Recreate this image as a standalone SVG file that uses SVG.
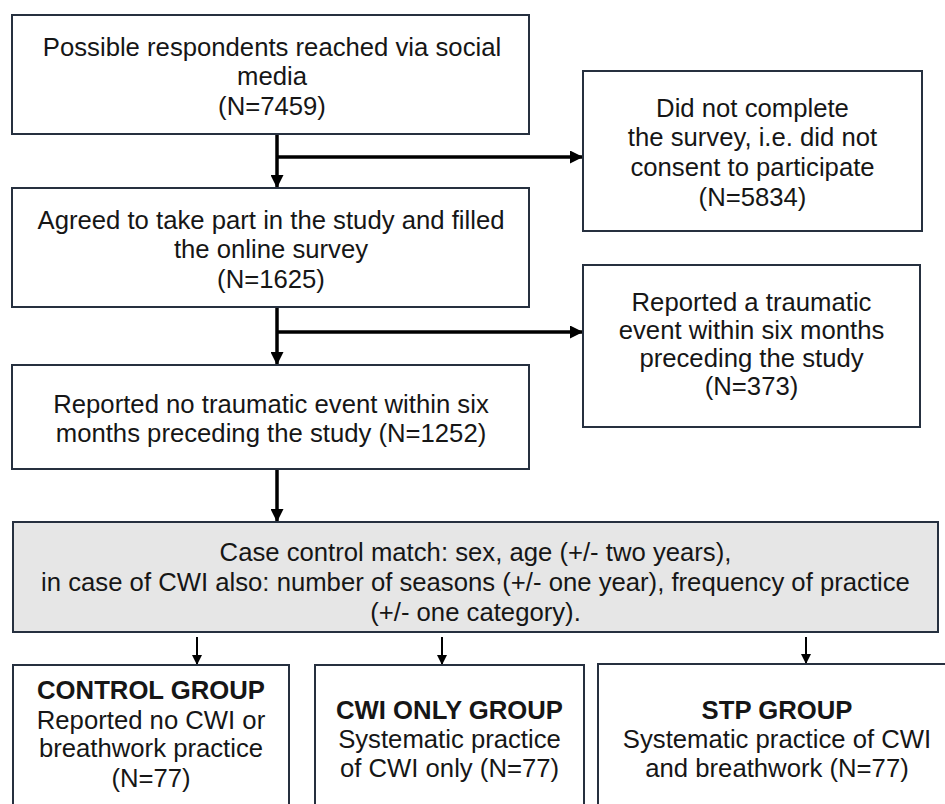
<svg xmlns="http://www.w3.org/2000/svg" width="945" height="804" viewBox="0 0 945 804">
<style>
.box{fill:#ffffff;stroke:#26303f;stroke-width:2}
.gray{fill:#e6e6e6;stroke:#26303f;stroke-width:2}
text{font-family:"Liberation Sans",Arial,sans-serif;font-size:25.7px;fill:#161616;text-anchor:middle}
.b{font-weight:bold}
.main{stroke:#000;stroke-width:3.5;fill:none}
.thin{stroke:#000;stroke-width:2;fill:none}
</style>
<defs>
<marker id="ah" markerUnits="userSpaceOnUse" markerWidth="13" markerHeight="13" refX="13" refY="6.5" orient="auto">
<path d="M0,0 L13,6.5 L0,13 z" fill="#000"/>
</marker>
<marker id="ahs" markerUnits="userSpaceOnUse" markerWidth="10" markerHeight="10" refX="10" refY="5" orient="auto">
<path d="M0,0 L10,5 L0,10 z" fill="#000"/>
</marker>
</defs>
<rect width="945" height="804" fill="#ffffff"/>
<g id="connectors">
<line class="main" x1="277" y1="134" x2="277" y2="188" marker-end="url(#ah)"/>
<line class="main" x1="277" y1="157" x2="583" y2="157" marker-end="url(#ah)"/>
<line class="main" x1="277" y1="307" x2="277" y2="365" marker-end="url(#ah)"/>
<line class="main" x1="277" y1="332" x2="583" y2="332" marker-end="url(#ah)"/>
<line class="main" x1="277" y1="469" x2="277" y2="522" marker-end="url(#ah)"/>
<line class="thin" x1="197" y1="637" x2="197" y2="665" marker-end="url(#ahs)"/>
<line class="thin" x1="442" y1="637" x2="442" y2="665" marker-end="url(#ahs)"/>
<line class="thin" x1="806" y1="637" x2="806" y2="664" marker-end="url(#ahs)"/>
</g>
<g id="reached">
<rect class="box" x="12" y="15" width="517" height="119"/>
<text x="272" y="56">Possible respondents reached via social</text>
<text x="272" y="85">media</text>
<text x="272" y="115">(N=7459)</text>
</g>
<g id="notcomplete">
<rect class="box" x="583" y="71" width="339" height="160"/>
<text x="752.5" y="117">Did not complete</text>
<text x="752.5" y="146">the survey, i.e. did not</text>
<text x="752.5" y="176">consent to participate</text>
<text x="752.5" y="206">(N=5834)</text>
</g>
<g id="agreed">
<rect class="box" x="12" y="188" width="517" height="119"/>
<text x="271" y="229">Agreed to take part in the study and filled</text>
<text x="271" y="258">the online survey</text>
<text x="271" y="288">(N=1625)</text>
</g>
<g id="traumatic">
<rect class="box" x="583" y="265" width="337" height="162"/>
<text x="751.5" y="311">Reported a traumatic</text>
<text x="751.5" y="339">event within six months</text>
<text x="751.5" y="367">preceding the study</text>
<text x="751.5" y="395">(N=373)</text>
</g>
<g id="notraumatic">
<rect class="box" x="12" y="365" width="517" height="104"/>
<text x="271" y="413">Reported no traumatic event within six</text>
<text x="271" y="442">months preceding the study (N=1252)</text>
</g>
<g id="match">
<rect class="gray" x="13" y="522" width="925" height="110"/>
<text x="475.5" y="561">Case control match: sex, age (+/- two years),</text>
<text x="475.5" y="591">in case of CWI also: number of seasons (+/- one year), frequency of practice</text>
<text x="475.5" y="621">(+/- one category).</text>
</g>
<g id="control">
<rect class="box" x="13" y="665" width="276" height="170"/>
<text class="b" x="151" y="699">CONTROL GROUP</text>
<text x="151" y="729">Reported no CWI or</text>
<text x="151" y="757">breathwork practice</text>
<text x="151" y="787">(N=77)</text>
</g>
<g id="cwionly">
<rect class="box" x="315" y="665" width="269" height="170"/>
<text class="b" x="449.5" y="719">CWI ONLY GROUP</text>
<text x="449.5" y="748">Systematic practice</text>
<text x="449.5" y="777">of CWI only (N=77)</text>
</g>
<g id="stp">
<rect class="box" x="598" y="664" width="358" height="170"/>
<text class="b" x="777" y="719">STP GROUP</text>
<text x="777" y="748">Systematic practice of CWI</text>
<text x="777" y="777">and breathwork (N=77)</text>
</g>
</svg>
